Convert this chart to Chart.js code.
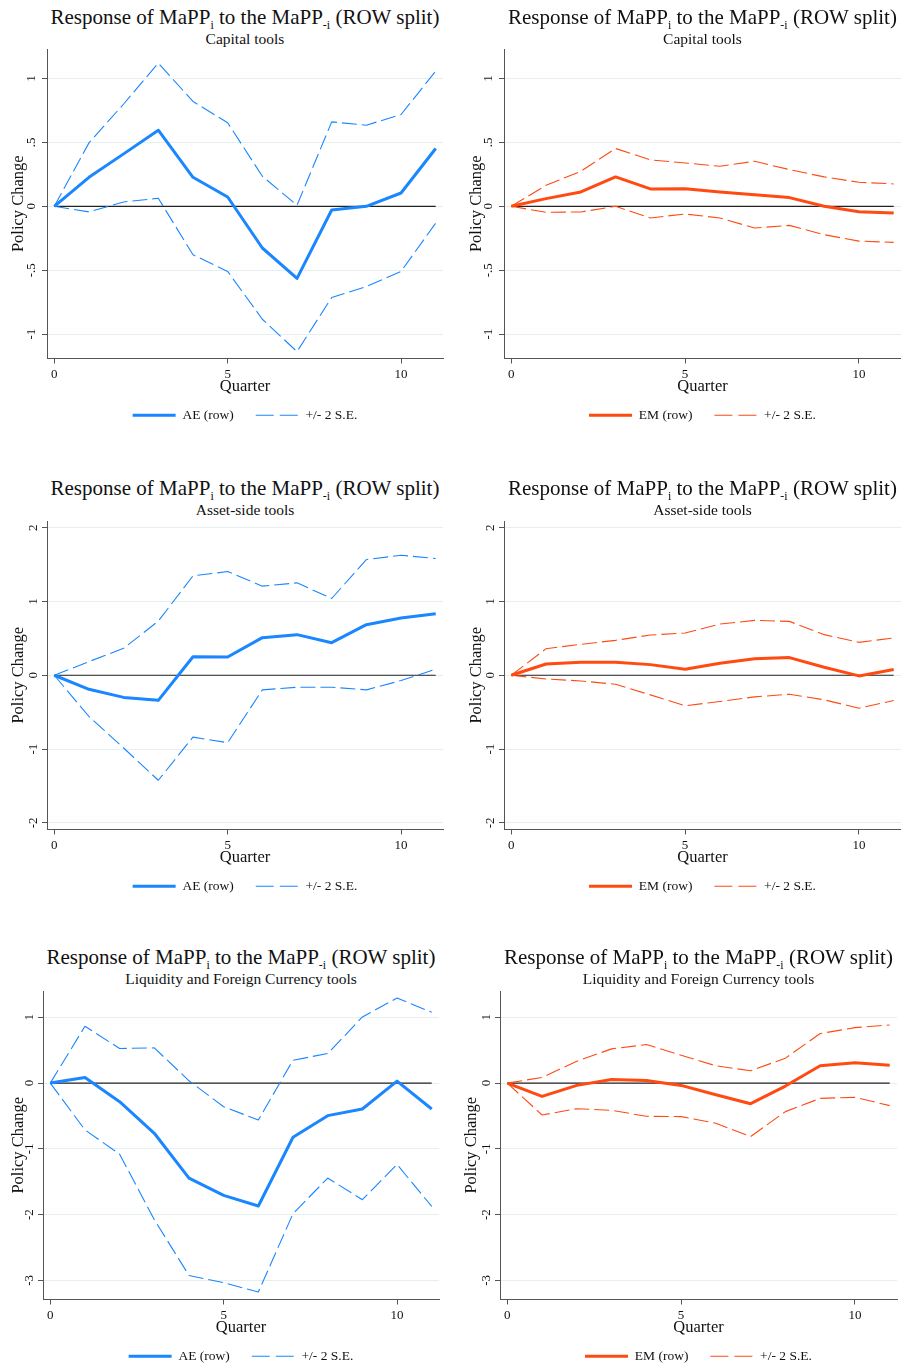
<!DOCTYPE html>
<html>
<head>
<meta charset="utf-8">
<script src="https://cdn.jsdelivr.net/npm/chart.js@4.4.1/dist/chart.umd.min.js"></script>
<style>
body{margin:0;background:#fff;width:901px;height:1366px;overflow:hidden;position:relative;font-family:"Liberation Serif",serif}
.ttl{position:absolute;width:500px;text-align:center;color:#111;white-space:nowrap}
.ttl .m{font-size:21px;line-height:22px;height:22px}
.ttl .s{font-size:15.5px;line-height:21px}
.ttl .sb{font-size:12px;position:relative;top:5px}
.box{position:absolute}
</style>
</head>
<body>
<script>
// quarters after the shock
var quarters = [0, 1, 2, 3, 4, 5, 6, 7, 8, 9, 10, 11];
var xTicks = [0, 5, 10];
var zeroLine = [0, 0, 0, 0, 0, 0, 0, 0, 0, 0, 0, 0];

// Capital tools
var capAE   = [0, 0.227, 0.41, 0.595, 0.227, 0.073, -0.326, -0.564, -0.029, 0.0, 0.104, 0.452];
var capAEup = [0, 0.496, 0.80, 1.12, 0.82, 0.653, 0.235, 0.008, 0.66, 0.634, 0.718, 1.057];
var capAElo = [0, -0.044, 0.034, 0.063, -0.379, -0.509, -0.883, -1.136, -0.713, -0.627, -0.509, -0.131];
var capEM   = [0, 0.06, 0.112, 0.23, 0.136, 0.138, 0.112, 0.091, 0.068, 0.0, -0.042, -0.052];
var capEMup = [0, 0.164, 0.274, 0.452, 0.363, 0.339, 0.313, 0.352, 0.287, 0.23, 0.188, 0.175];
var capEMlo = [0, -0.047, -0.044, 0.0, -0.091, -0.06, -0.091, -0.17, -0.149, -0.222, -0.272, -0.282];

// Asset-side tools
var assAE   = [0, -0.19, -0.30, -0.34, 0.25, 0.248, 0.509, 0.55, 0.441, 0.685, 0.775, 0.833];
var assAEup = [0, 0.185, 0.365, 0.734, 1.347, 1.405, 1.207, 1.252, 1.04, 1.568, 1.626, 1.581];
var assAElo = [0, -0.559, -0.986, -1.423, -0.838, -0.914, -0.198, -0.162, -0.162, -0.198, -0.072, 0.081];
var assEM   = [0, 0.153, 0.176, 0.176, 0.144, 0.081, 0.162, 0.225, 0.239, 0.108, -0.009, 0.077];
var assEMup = [0, 0.36, 0.419, 0.473, 0.545, 0.572, 0.694, 0.743, 0.73, 0.55, 0.446, 0.505];
var assEMlo = [0, -0.05, -0.077, -0.122, -0.266, -0.414, -0.356, -0.293, -0.257, -0.333, -0.446, -0.342];

// Liquidity and Foreign Currency tools
var liqAE   = [0, 0.086, -0.283, -0.763, -1.444, -1.707, -1.869, -0.823, -0.495, -0.394, 0.03, -0.394];
var liqAEup = [0, 0.864, 0.525, 0.535, 0.035, -0.359, -0.561, 0.348, 0.449, 1.005, 1.293, 1.076];
var liqAElo = [0, -0.712, -1.081, -2.076, -2.924, -3.035, -3.177, -1.985, -1.444, -1.773, -1.237, -1.874];
var liqEM   = [0, -0.202, -0.035, 0.056, 0.04, -0.035, -0.177, -0.313, -0.045, 0.263, 0.308, 0.273];
var liqEMup = [0, 0.086, 0.333, 0.52, 0.586, 0.424, 0.263, 0.187, 0.379, 0.753, 0.843, 0.884];
var liqEMlo = [0, -0.485, -0.389, -0.414, -0.505, -0.51, -0.611, -0.813, -0.434, -0.232, -0.217, -0.343];

var yTicksCap = [-1, -0.5, 0, 0.5, 1];
var yLabelsCap = ['-1', '-.5', '0', '.5', '1'];
var yTicksAss = [-2, -1, 0, 1, 2];
var yLabelsAss = ['-2', '-1', '0', '1', '2'];
var yTicksLiq = [-3, -2, -1, 0, 1];
var yLabelsLiq = ['-3', '-2', '-1', '0', '1'];

var seLabel = '+/- 2 S.E.';
var blue = '#1a86ff';
var orange = '#ff4a12';

Chart.defaults.font.family = '"Liberation Serif", serif';
Chart.defaults.color = '#111';

var panels = [
  {main: capAE, up: capAEup, lo: capAElo, name: 'AE (row)', col: blue, sub: 'Capital tools', yt: yTicksCap, yl: yLabelsCap, ymin: -1.19, ymax: 1.23,
   left: 47, right: 443, top: 49, bottom: 359, legend: 415.5, titleY: 17, gap: 28},
  {main: capEM, up: capEMup, lo: capEMlo, name: 'EM (row)', col: orange, sub: 'Capital tools', yt: yTicksCap, yl: yLabelsCap, ymin: -1.19, ymax: 1.23,
   left: 504, right: 901, top: 49, bottom: 359, legend: 415.5, titleY: 17, gap: 27},
  {main: assAE, up: assAEup, lo: assAElo, name: 'AE (row)', col: blue, sub: 'Asset-side tools', yt: yTicksAss, yl: yLabelsAss, ymin: -2.09, ymax: 2.09,
   left: 47, right: 443, top: 521, bottom: 830, legend: 886, titleY: 488, gap: 28},
  {main: assEM, up: assEMup, lo: assEMlo, name: 'EM (row)', col: orange, sub: 'Asset-side tools', yt: yTicksAss, yl: yLabelsAss, ymin: -2.09, ymax: 2.09,
   left: 504, right: 901, top: 521, bottom: 830, legend: 886, titleY: 488, gap: 27},
  {main: liqAE, up: liqAEup, lo: liqAElo, name: 'AE (row)', col: blue, sub: 'Liquidity and Foreign Currency tools', yt: yTicksLiq, yl: yLabelsLiq, ymin: -3.29, ymax: 1.40,
   left: 43, right: 439, top: 991, bottom: 1300, legend: 1356, titleY: 957, gap: 24.5},
  {main: liqEM, up: liqEMup, lo: liqEMlo, name: 'EM (row)', col: orange, sub: 'Liquidity and Foreign Currency tools', yt: yTicksLiq, yl: yLabelsLiq, ymin: -3.29, ymax: 1.40,
   left: 500, right: 897, top: 991, bottom: 1300, legend: 1356, titleY: 957, gap: 28}
];

function pts(arr) {
  return quarters.map(function(q, i){ return {x: q, y: arr[i]}; });
}

// legend keys: a thick solid line and a long-dash line
function legendLabels(chart) {
  var items = Chart.defaults.plugins.legend.labels.generateLabels(chart);
  items.forEach(function(it){
    var ds = chart.data.datasets[it.datasetIndex];
    it.lineDash = ds.borderDash ? [18, 6] : [];
    it.lineWidth = ds.borderWidth;
    it.strokeStyle = ds.borderColor;
    it.pointStyle = 'line';
  });
  return items.filter(function(it){ return it.datasetIndex < 2; });
}

function drawPanel(p) {
  var yW = 46, padTop = 12, legH = 45;
  var cTop = p.top - padTop;
  var cBottom = Math.round(p.legend + 16.5);
  var xH = cBottom - legH - p.bottom;
  var cLeft = p.left - yW;
  var w = (p.right - p.left) + 2 * yW;
  var h = cBottom - cTop;

  // title with subscripts as html text
  var t = document.createElement('div');
  t.className = 'ttl';
  t.style.left = ((p.left + p.right) / 2 - 250) + 'px';
  t.style.top = (p.titleY - 11) + 'px';
  t.innerHTML = '<div class="m">Response of MaPP<span class="sb">i</span> to the MaPP<span class="sb">-i</span> (ROW split)</div>' +
                '<div class="s">' + p.sub + '</div>';
  document.body.appendChild(t);

  var box = document.createElement('div');
  box.className = 'box';
  box.style.left = cLeft + 'px';
  box.style.top = cTop + 'px';
  var cv = document.createElement('canvas');
  cv.width = w; cv.height = h;
  cv.style.width = w + 'px'; cv.style.height = h + 'px';
  box.appendChild(cv);
  document.body.appendChild(box);

  new Chart(cv.getContext('2d'), {
    type: 'line',
    data: {
      datasets: [
        {label: p.name, data: pts(p.main), borderColor: p.col, backgroundColor: p.col, borderWidth: 3},
        {label: seLabel, data: pts(p.up), borderColor: p.col, backgroundColor: p.col, borderWidth: 1.1, borderDash: [15, 5]},
        {label: 'lower', data: pts(p.lo), borderColor: p.col, backgroundColor: p.col, borderWidth: 1.1, borderDash: [15, 5]},
        {label: 'zero', data: pts(zeroLine), borderColor: '#222', borderWidth: 1.2}
      ]
    },
    options: {
      responsive: false,
      animation: false,
      events: [],
      layout: {padding: {left: 0, right: 0, top: padTop, bottom: 0}},
      elements: {point: {radius: 0}, line: {tension: 0, fill: false, borderJoinStyle: 'round'}},
      plugins: {
        tooltip: {enabled: false},
        legend: {
          position: 'bottom',
          labels: {
            usePointStyle: true, pointStyle: 'line', pointStyleWidth: 43,
            font: {size: 13.5}, padding: 22, color: '#111',
            generateLabels: legendLabels
          }
        }
      },
      scales: {
        x: {
          type: 'linear', min: -0.21, max: 11.21,
          afterBuildTicks: function(s){ s.ticks = xTicks.map(function(v){ return {value: v}; }); },
          afterFit: function(s){ s.height = xH; s.paddingLeft = 0; s.paddingRight = 0; },
          grid: {drawOnChartArea: false, tickLength: 5, tickColor: '#555'},
          border: {color: '#555', width: 1},
          ticks: {font: {size: 13}, padding: 3, color: '#111', maxRotation: 0},
          title: {display: true, text: 'Quarter', font: {size: 16.5}, color: '#111', padding: {top: 0, bottom: -10}}
        },
        y: {
          type: 'linear', position: 'left', min: p.ymin, max: p.ymax,
          afterBuildTicks: function(s){ s.ticks = p.yt.map(function(v){ return {value: v}; }); },
          afterFit: function(s){ s.width = yW; s.paddingTop = 0; s.paddingBottom = 0; },
          grid: {color: '#e6eff0', lineWidth: 1, tickLength: 5, tickColor: '#555'},
          border: {color: '#555', width: 1},
          ticks: {
            font: {size: 13}, padding: 3, color: '#111', minRotation: 90, maxRotation: 90, crossAlign: 'center',
            callback: function(v){ return p.yl[p.yt.indexOf(v)]; }
          },
          title: {display: true, text: 'Policy Change', font: {size: 16.5}, color: '#111', padding: {top: yW - 9.9 - p.gap, bottom: 0}}
        },
        y2: {
          type: 'linear', position: 'right', min: 0, max: 1,
          afterFit: function(s){ s.width = yW; s.paddingTop = 0; s.paddingBottom = 0; },
          grid: {display: false}, border: {display: false}, ticks: {display: false}
        }
      }
    }
  });
}

panels.forEach(drawPanel);
</script>
</body>
</html>
